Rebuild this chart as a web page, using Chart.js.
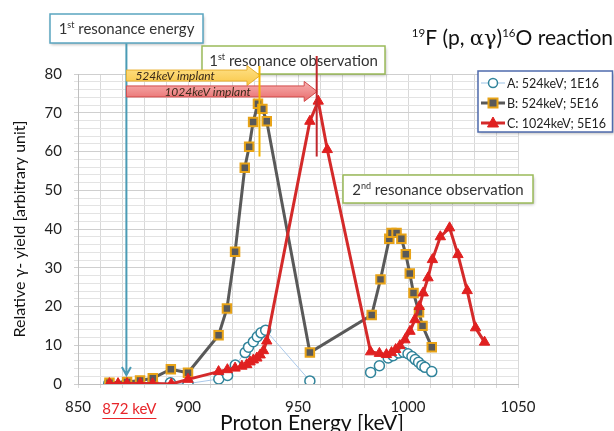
<!DOCTYPE html>
<html lang="en">
<head>
<meta charset="UTF-8" />
<title>19F (p, αγ)16O reaction</title>
<style>
  html, body { margin: 0; padding: 0; background: #fff; }
  #wrap { position: relative; width: 614px; height: 431px; }
</style>
<script src="https://cdn.jsdelivr.net/npm/chart.js"></script>
</head>
<body>
<div id="wrap"><canvas id="yieldChart"></canvas></div>
<script>
// A: 524keV; 1E16
const aEnergy = [864, 872, 878, 884, 892, 900, 914, 918, 921.5, 926, 927.5, 929.7, 931.5, 933.2, 935.3, 955.4,
  983, 987, 991, 993.2, 995.8, 998, 1000, 1001.8, 1003.3, 1004.8, 1006.3, 1007.7, 1010.8];
const aYield = [0.1, 0.1, 0.2, 0.2, 0.3, 0.1, 1.3, 2.2, 4.9, 8.1, 9.5, 10.9, 12.2, 13.2, 13.9, 0.8,
  3.0, 4.7, 6.7, 7.3, 8.0, 8.2, 7.8, 7.1, 6.3, 5.6, 4.8, 4.3, 3.2];

// B: 524keV; 5E16
const bEnergy = [864.3, 872.3, 878.2, 884, 892.2, 900, 913.9, 917.7, 921.4, 925.8, 927.8, 929.6, 931.8, 933.8, 935.8, 955.4,
  983.5, 987.5, 991.5, 992.5, 994.8, 997, 999, 1000.8, 1002.5, 1005, 1006.6, 1010.8];
const bYield = [0.3, 0.5, 0.9, 1.5, 3.8, 2.9, 12.6, 19.5, 34.1, 55.8, 61.2, 67.6, 72.3, 71.0, 67.8, 8.1,
  17.8, 27.0, 37.5, 39.0, 39.0, 37.5, 33.5, 28.5, 23.5, 18.5, 15.0, 9.5];

// C: 1024keV; 5E16
const cEnergy = [864.3, 868.2, 872.3, 878.3, 883.9, 892.4, 900, 913.9, 917.9, 921.4, 924.5, 926.7, 928.2, 929.7, 931.3, 932.8, 934.3, 935.8,
  955.4, 959.2, 963.3, 983, 987, 990.2, 992.5, 994.4, 996.3, 998.6, 1000.9, 1003.1, 1005.1, 1006.9, 1009.1, 1011.1,
  1014.7, 1018.9, 1022.7, 1026.9, 1030.7, 1034.8];
const cYield = [0.1, 0.1, 0.1, 0.1, 0.1, 0, 1.2, 3.2, 3.7, 4.1, 4.6, 5.0, 5.7, 6.2, 6.7, 7.5, 8.6, 11.1,
  67.8, 73.0, 60.5, 8.3, 7.9, 7.6, 8.1, 8.9, 9.9, 11.4, 13.6, 16.6, 20.0, 23.5, 27.4, 32.1,
  38.0, 40.3, 33.4, 24.1, 14.5, 10.8];

const seriesLabels = ['A: 524keV; 1E16', 'B: 524keV; 5E16', 'C: 1024keV; 5E16'];

// annotation energies [keV]
const resonanceEnergy = 872;
const observed524 = 932.5;
const observed1024 = 958.5;

const FONT = 'Lato, "Open Sans", sans-serif';

function toPoints(xs, ys) {
  return xs.map((x, i) => ({ x: x, y: ys[i] }));
}

// text with superscripts: parts = [text, size, raise, family, style]
function richText(ctx, x, y, parts, align) {
  const fontOf = p => (p[4] || '') + ' ' + p[1] + 'px ' + (p[3] || FONT);
  const widths = parts.map(p => { ctx.font = fontOf(p); return ctx.measureText(p[0]).width; });
  const total = widths.reduce((s, w) => s + w, 0);
  let cx = align === 'right' ? x - total : align === 'center' ? x - total / 2 : x;
  ctx.textAlign = 'left';
  ctx.textBaseline = 'alphabetic';
  parts.forEach((p, i) => {
    ctx.font = fontOf(p);
    ctx.fillText(p[0], cx, y - (p[2] || 0));
    cx += widths[i];
  });
}

function labelBox(ctx, x1, y1, x2, y2, stroke) {
  ctx.save();
  ctx.shadowColor = 'rgba(0,0,0,0.3)';
  ctx.shadowBlur = 3;
  ctx.shadowOffsetX = 1;
  ctx.shadowOffsetY = 1.5;
  ctx.fillStyle = '#fff';
  ctx.fillRect(x1, y1, x2 - x1, y2 - y1);
  ctx.restore();
  ctx.strokeStyle = stroke;
  ctx.lineWidth = 1.5;
  ctx.strokeRect(x1, y1, x2 - x1, y2 - y1);
}

function implantArrow(ctx, x1, x2, yc, fillTop, fillBottom, stroke, text) {
  const bh = 5.5, hh = 10, hl = 13;
  ctx.save();
  const g = ctx.createLinearGradient(0, yc - hh, 0, yc + hh);
  g.addColorStop(0, fillTop);
  g.addColorStop(1, fillBottom);
  ctx.beginPath();
  ctx.moveTo(x1, yc - bh);
  ctx.lineTo(x2 - hl, yc - bh);
  ctx.lineTo(x2 - hl, yc - hh);
  ctx.lineTo(x2, yc);
  ctx.lineTo(x2 - hl, yc + hh);
  ctx.lineTo(x2 - hl, yc + bh);
  ctx.lineTo(x1, yc + bh);
  ctx.closePath();
  ctx.fillStyle = g;
  ctx.fill();
  ctx.strokeStyle = stroke;
  ctx.lineWidth = 1;
  ctx.stroke();
  ctx.fillStyle = '#3a2a1a';
  ctx.font = 'italic 12px ' + FONT;
  ctx.textAlign = 'left';
  ctx.textBaseline = 'middle';
  ctx.fillText(text.t, text.x, yc + 0.5);
  ctx.restore();
}

function drawMarker(ctx, style, x, y) {
  ctx.save();
  ctx.fillStyle = style.fill;
  ctx.strokeStyle = style.stroke;
  ctx.lineWidth = style.width;
  ctx.beginPath();
  if (style.shape === 'circle') {
    ctx.arc(x, y, 4.5, 0, Math.PI * 2);
  } else if (style.shape === 'rect') {
    ctx.rect(x - 4.5, y - 4.5, 9, 9);
  } else {
    ctx.moveTo(x, y - 6);
    ctx.lineTo(x + 5.5, y + 4);
    ctx.lineTo(x - 5.5, y + 4);
    ctx.closePath();
  }
  ctx.fill();
  ctx.stroke();
  ctx.restore();
}

const legendStyles = [
  { line: '#9dc3e6', lw: 1, shape: 'circle', fill: '#fff', stroke: '#31849b', width: 1.5 },
  { line: '#595959', lw: 3, shape: 'rect', fill: '#595959', stroke: '#e8a317', width: 2 },
  { line: '#d42a2a', lw: 3, shape: 'triangle', fill: '#e02020', stroke: '#e02020', width: 1 }
];

const annotations = {
  id: 'annotations',
  afterDatasetsDraw(chart) {
    const ctx = chart.ctx;
    const xs = chart.scales.x, ys = chart.scales.y;
    const xE = xs.getPixelForValue(resonanceEnergy);
    const x524 = xs.getPixelForValue(observed524);
    const x1024 = xs.getPixelForValue(observed1024);
    ctx.save();

    // title
    ctx.fillStyle = '#111';
    richText(ctx, 613, 45, [
      ['19', 11.5, 8], ['F (p, ', 21, 0], ['αγ', 21, 0, '"DejaVu Serif", serif'], [')', 21, 0],
      ['16', 11.5, 8], ['O reaction', 21, 0]
    ], 'right');

    // x axis title (sits right of the plot centre in the original)
    ctx.fillStyle = '#111';
    ctx.font = '21px ' + FONT;
    ctx.textAlign = 'center';
    ctx.textBaseline = 'middle';
    ctx.fillText('Proton Energy [keV]', 312, 423);

    // 1st resonance energy box + arrow
    labelBox(ctx, 50, 14, 203, 43, '#5aa5c0');
    ctx.fillStyle = '#333';
    richText(ctx, 126.5, 34, [['1', 15, 0], ['st', 9, 6], [' resonance energy', 15, 0]], 'center');
    const tipY = ys.getPixelForValue(2.3);
    ctx.strokeStyle = '#4a9bb5';
    ctx.lineWidth = 2;
    ctx.beginPath();
    ctx.moveTo(xE, 43.5);
    ctx.lineTo(xE, tipY);
    ctx.moveTo(xE - 4.5, tipY - 8);
    ctx.lineTo(xE, tipY);
    ctx.lineTo(xE + 4.5, tipY - 8);
    ctx.stroke();

    // 1st resonance observation box
    labelBox(ctx, 202, 46, 385, 74, '#9bbb59');
    ctx.fillStyle = '#333';
    richText(ctx, 293.5, 66, [['1', 15, 0], ['st', 9, 6], [' resonance observation', 15, 0]], 'center');

    // implant arrows
    implantArrow(ctx, xE, x524 + 0.5, ys.getPixelForValue(79.6), '#ffe28a', '#f9c747', '#e8b030',
      { t: '524keV implant', x: xE + 9 });
    implantArrow(ctx, xE, x1024 + 0.5, ys.getPixelForValue(75.5), '#f7b2b2', '#e86a6a', '#d24a4a',
      { t: '1024keV implant', x: xE + 38 });

    // observation markers
    ctx.lineWidth = 2;
    ctx.strokeStyle = '#f5b400';
    ctx.beginPath();
    ctx.moveTo(x524, 66);
    ctx.lineTo(x524, ys.getPixelForValue(58.7));
    ctx.stroke();
    ctx.strokeStyle = '#c0282d';
    ctx.beginPath();
    ctx.moveTo(x1024, 56);
    ctx.lineTo(x1024, ys.getPixelForValue(58.7));
    ctx.stroke();

    // 2nd resonance observation box
    labelBox(ctx, 343, 175, 533, 203, '#9bbb59');
    ctx.fillStyle = '#333';
    richText(ctx, 438, 195, [['2', 15, 0], ['nd', 9, 6], [' resonance observation', 15, 0]], 'center');

    // legend
    labelBox(ctx, 478, 71, 612.5, 132, '#4f6bad');
    chart.data.datasets.forEach((ds, i) => {
      const st = legendStyles[i];
      const ly = 83 + i * 20;
      ctx.strokeStyle = st.line;
      ctx.lineWidth = st.lw;
      ctx.beginPath();
      ctx.moveTo(481, ly);
      ctx.lineTo(505, ly);
      ctx.stroke();
      drawMarker(ctx, st, 493, ly);
      ctx.fillStyle = '#222';
      ctx.font = '12.5px ' + FONT;
      ctx.textAlign = 'left';
      ctx.textBaseline = 'middle';
      ctx.fillText(ds.label, 507, ly + 1);
    });

    // 872 keV label
    ctx.fillStyle = '#e8262a';
    ctx.font = '15px ' + FONT;
    ctx.textAlign = 'center';
    ctx.textBaseline = 'middle';
    ctx.fillText('872 keV', xE + 3, 409);
    const w = ctx.measureText('872 keV').width;
    ctx.strokeStyle = '#e8262a';
    ctx.lineWidth = 1;
    ctx.beginPath();
    ctx.moveTo(xE + 3 - w / 2, 418.5);
    ctx.lineTo(xE + 3 + w / 2, 418.5);
    ctx.stroke();
    ctx.restore();
  }
};

new Chart(document.getElementById('yieldChart'), {
  type: 'line',
  data: {
    datasets: [
      {
        label: seriesLabels[0],
        data: toPoints(aEnergy, aYield),
        borderColor: '#a9c8ea',
        borderWidth: 1,
        pointStyle: 'circle',
        pointRadius: 5,
        pointBackgroundColor: '#fff',
        pointBorderColor: '#31849b',
        pointBorderWidth: 1.5,
        segment: { borderColor: c => (c.p1.parsed.x - c.p0.parsed.x > 25 ? 'rgba(0,0,0,0)' : '#a9c8ea') },
        order: 3
      },
      {
        label: seriesLabels[1],
        data: toPoints(bEnergy, bYield),
        borderColor: '#595959',
        borderWidth: 3,
        pointStyle: 'rect',
        pointRadius: 6,
        pointBackgroundColor: '#595959',
        pointBorderColor: '#e8a317',
        pointBorderWidth: 2,
        order: 2
      },
      {
        label: seriesLabels[2],
        data: toPoints(cEnergy, cYield),
        borderColor: '#d42a2a',
        borderWidth: 3,
        pointStyle: 'triangle',
        pointRadius: 6,
        pointBackgroundColor: '#e02020',
        pointBorderColor: '#e02020',
        pointBorderWidth: 1,
        order: 1
      }
    ]
  },
  options: {
    responsive: true,
    maintainAspectRatio: false,
    animation: false,
    layout: { padding: { left: 0, right: 96, top: 74, bottom: 0 } },
    plugins: { legend: { display: false }, tooltip: { enabled: false } },
    elements: { line: { tension: 0 } },
    scales: {
      x: {
        type: 'linear',
        min: 850,
        max: 1050,
        ticks: {
          stepSize: 10,
          autoSkip: false,
          maxRotation: 0,
          padding: 10,
          color: '#222',
          font: { family: FONT, size: 15 },
          callback: v => (v % 50 === 0 ? v : '')
        },
        grid: { color: '#d9d9d9', tickLength: 4 },
        border: { color: '#bfbfbf' },
        afterFit: s => { s.height = 47; }
      },
      y: {
        min: 0,
        max: 80,
        ticks: {
          stepSize: 2,
          autoSkip: false,
          padding: 12,
          color: '#222',
          font: { family: FONT, size: 15 },
          callback: v => (v % 10 === 0 ? v : '')
        },
        grid: {
          color: c => (c.tick && c.tick.value % 10 === 0 ? '#cfcfcf' : '#e3e3e3'),
          tickLength: 4
        },
        border: { color: '#bfbfbf' },
        title: {
          display: true,
          text: 'Relative γ- yield [arbitrary unit]',
          color: '#111',
          font: { family: FONT, size: 16, lineHeight: 1.2 },
          padding: { top: 10, bottom: 0 }
        },
        afterFit: s => { s.width = 78; }
      }
    }
  },
  plugins: [annotations]
});
</script>
</body>
</html>
